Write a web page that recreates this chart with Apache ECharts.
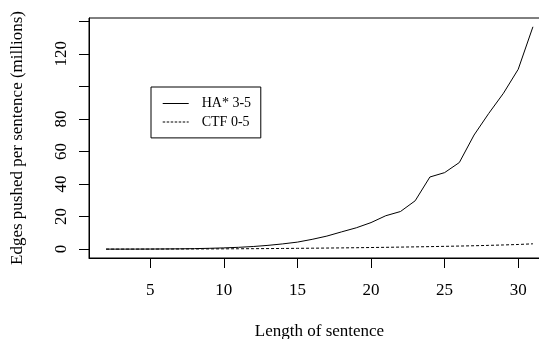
<!DOCTYPE html>
<html>
<head>
<meta charset="utf-8">
<script src="https://cdn.jsdelivr.net/npm/echarts@6/dist/echarts.min.js"></script>
<style>
html,body{margin:0;padding:0;background:#fff;}
#chart{width:539px;height:339px;}
</style>
</head>
<body>
<div id="chart"></div>
<script>
var sentenceLength = [2,3,4,5,6,7,8,9,10,11,12,13,14,15,16,17,18,19,20,21,22,23,24,25,26,27,28,29,30,31];
var haStar = [0.0,0.0,0.02,0.05,0.1,0.18,0.3,0.5,0.75,1.1,1.6,2.3,3.2,4.3,6.0,8.0,10.6,13.1,16.3,20.5,23.1,29.7,44.3,47.0,53.2,70.1,83.4,95.8,110.5,136.6];
var ctf = [0.0,0.01,0.02,0.03,0.05,0.07,0.1,0.13,0.17,0.22,0.27,0.33,0.4,0.48,0.56,0.65,0.75,0.86,0.98,1.1,1.24,1.38,1.53,1.7,1.88,2.07,2.3,2.55,2.85,3.25];
var xTicks = [5,10,15,20,25,30];
var yTicks = [0,20,40,60,80,100,120,140];
var yTickLabels = [0,20,40,60,80,120];
var seriesNames = ['HA* 3-5','CTF 0-5'];
var xTitle = 'Length of sentence';
var yTitle = 'Edges pushed per sentence (millions)';

var FONT = '"Liberation Serif", "DejaVu Serif", serif';
function pairs(xs, ys){ return xs.map(function(x,i){ return [x, ys[i]]; }); }

var solidIcon = 'path://M0,0H26V1H0Z';
var dashedIcon = 'path://M0,0H2.5V1H0Z M4,0H6.5V1H4Z M8,0H10.5V1H8Z M12,0H14.5V1H12Z M16,0H18.5V1H16Z M20,0H22.5V1H20Z M24,0H26V1H24Z';

var chart = echarts.init(document.getElementById('chart'), null, {renderer:'canvas'});
chart.setOption({
  animation:false,
  backgroundColor:'#fff',
  grid:{left:89, top:18, right:-11, bottom:81, containLabel:false, outerBoundsMode:'none',
        show:true, borderColor:'#000', borderWidth:1, backgroundColor:'transparent'},
  legend:{
    left:151, top:87, orient:'vertical',
    borderColor:'#000', borderWidth:1, borderRadius:0,
    padding:[9.5,9.7,9,11.7],
    itemWidth:26, itemHeight:1.3, itemGap:4.4,
    textStyle:{fontFamily:FONT, fontSize:14, color:'#000', padding:[0,0,0,8], lineHeight:14},
    itemStyle:{color:'#000', borderWidth:0},
    data:[{name:seriesNames[0], icon:solidIcon},{name:seriesNames[1], icon:dashedIcon}]
  },
  xAxis:{
    type:'value', min:0.84, max:32.16,
    name:xTitle, nameLocation:'middle', nameGap:65,
    nameTextStyle:{fontFamily:FONT, fontSize:17, color:'#000'},
    axisLine:{show:true, onZero:false, lineStyle:{color:'#000', width:1}},
    axisTick:{show:true, length:10, inside:false, customValues:xTicks, lineStyle:{color:'#000'}},
    axisLabel:{show:true, customValues:xTicks, margin:24, fontFamily:FONT, fontSize:17, color:'#000'},
    splitLine:{show:false}
  },
  yAxis:{
    type:'value', min:-5.46, max:142,
    name:yTitle, nameLocation:'middle', nameGap:63,
    nameTextStyle:{fontFamily:FONT, fontSize:17, color:'#000'},
    axisLine:{show:true, onZero:false, lineStyle:{color:'#000', width:1}},
    axisTick:{show:true, length:10, inside:false, customValues:yTicks, lineStyle:{color:'#000'}},
    axisLabel:{show:true, customValues:yTickLabels, rotate:90, margin:19, fontFamily:FONT, fontSize:17, color:'#000'},
    splitLine:{show:false}
  },
  series:[
    {name:seriesNames[0], type:'line', data:pairs(sentenceLength, haStar), symbol:'none', smooth:false,
     lineStyle:{color:'#000', width:1, type:'solid'}, itemStyle:{color:'#000'}},
    {name:seriesNames[1], type:'line', data:pairs(sentenceLength, ctf), symbol:'none', smooth:false,
     lineStyle:{color:'#000', width:1, type:[3,2]}, itemStyle:{color:'#000'}}
  ]
});
</script>
</body>
</html>
